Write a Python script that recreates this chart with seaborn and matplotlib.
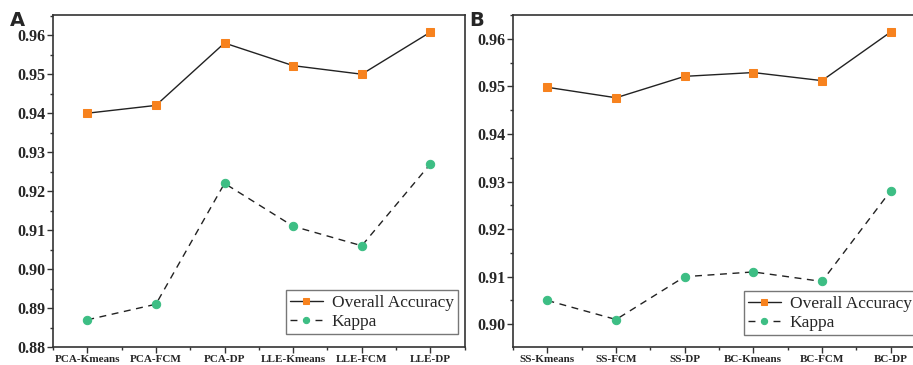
import matplotlib
matplotlib.use("Agg")
import matplotlib.pyplot as plt
import seaborn as sns
from matplotlib.ticker import AutoMinorLocator, MultipleLocator, FormatStrFormatter

methods_a = ['PCA-Kmeans', 'PCA-FCM', 'PCA-DP', 'LLE-Kmeans', 'LLE-FCM', 'LLE-DP']
oa_a = [0.940, 0.942, 0.958, 0.9522, 0.950, 0.9608]
kappa_a = [0.887, 0.891, 0.922, 0.911, 0.906, 0.927]

methods_b = ['SS-Kmeans', 'SS-FCM', 'SS-DP', 'BC-Kmeans', 'BC-FCM', 'BC-DP']
oa_b = [0.9498, 0.9476, 0.9521, 0.9529, 0.9512, 0.9614]
kappa_b = [0.905, 0.901, 0.910, 0.911, 0.909, 0.928]

orange = '#F7821E'
green = '#3DBE84'

sns.set_style('ticks')
plt.rcParams['font.family'] = ['Liberation Serif', 'DejaVu Serif']

fig = plt.figure(figsize=(9.13, 3.65), dpi=100)
ax_a = fig.add_axes([0.058, 0.049, 0.451, 0.910])
ax_b = fig.add_axes([0.562, 0.049, 0.451, 0.910])


def draw(ax, methods, oa, kappa, ylim, legend_anchor):
    sns.lineplot(x=methods, y=oa, ax=ax, color='#222222', lw=1.0, marker='s',
                 markersize=5.2, markerfacecolor=orange, markeredgecolor=orange,
                 label='Overall Accuracy', sort=False)
    sns.lineplot(x=methods, y=kappa, ax=ax, color='#222222', lw=1.0, marker='o',
                 markersize=6, markerfacecolor=green, markeredgecolor=green,
                 label='Kappa', sort=False)
    ax.lines[1].set_dashes([5, 4])
    ax.set_xlim(-0.5, len(methods) - 0.5)
    ax.set_ylim(*ylim)
    ax.yaxis.set_major_locator(MultipleLocator(0.01))
    ax.yaxis.set_minor_locator(AutoMinorLocator(2))
    ax.xaxis.set_minor_locator(MultipleLocator(0.5))
    ax.tick_params(axis='both', which='major', direction='out', length=4, width=1,
                   color='#333333', pad=1.5)
    ax.tick_params(axis='both', which='minor', direction='out', length=2.5, width=1,
                   color='#333333')
    ax.tick_params(axis='y', labelsize=11.5)
    ax.tick_params(axis='x', labelsize=8)
    for lab in ax.get_yticklabels() + ax.get_xticklabels():
        lab.set_fontweight('bold')
    ax.yaxis.set_major_formatter(FormatStrFormatter('%.2f'))
    for sp in ax.spines.values():
        sp.set_visible(True)
        sp.set_linewidth(1.2)
        sp.set_color('#333333')
    ax.set_xlabel('')
    ax.set_ylabel('')
    leg = ax.legend(loc='lower right', bbox_to_anchor=legend_anchor,
                    bbox_transform=fig.transFigure, fontsize=12.5,
                    frameon=True, fancybox=False, edgecolor='#555555',
                    borderpad=0.25, labelspacing=0.15, handlelength=1.9,
                    handletextpad=0.5, borderaxespad=0)
    leg.get_frame().set_linewidth(1.0)
    for h in leg.legend_handles:
        h.set_markersize(4.5)


draw(ax_a, methods_a, oa_a, kappa_a, (0.88, 0.9652), (458 / 913, 31 / 365))
draw(ax_b, methods_b, oa_b, kappa_b, (0.8952, 0.965), (916 / 913, 30 / 365))

fig.text(0.011, 0.93, 'A', fontsize=14, fontweight='bold', family='DejaVu Sans')
fig.text(0.514, 0.93, 'B', fontsize=14, fontweight='bold', family='DejaVu Sans')

fig.savefig('out.png', dpi=100)
